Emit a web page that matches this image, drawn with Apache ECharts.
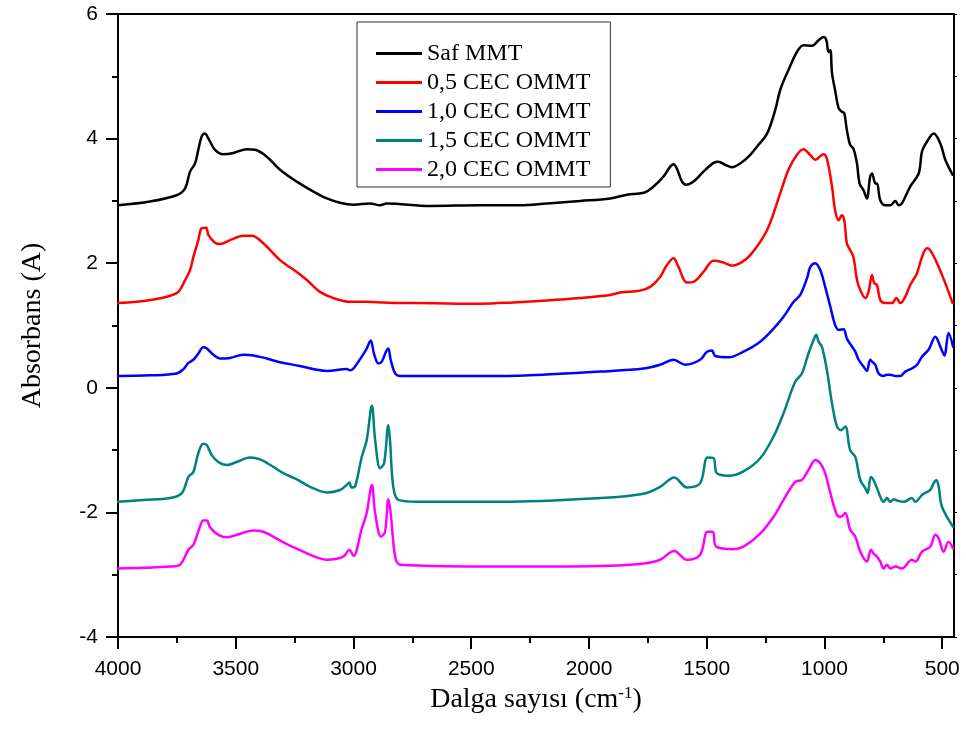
<!DOCTYPE html>
<html lang="tr">
  <head>
    <meta charset="UTF-8" />
    <title>FTIR spektrumları</title>
    <script src="https://cdn.jsdelivr.net/npm/echarts@6.0.0/dist/echarts.min.js"></script>
    <style>
      html, body { margin: 0; padding: 0; background: #fff; }
      #main { width: 966px; height: 740px; }
    </style>
  </head>
  <body>
    <div id="main"></div>

    <script type="text/javascript">
      // seri adlari
      var names = ["Saf MMT", "0,5 CEC OMMT", "1,0 CEC OMMT", "1,5 CEC OMMT", "2,0 CEC OMMT"];
      var colors = ["#000000", "#ff0000", "#0000ff", "#008080", "#ff00ff"];

      // eksen etiketleri
      var xMajor = [4000, 3500, 3000, 2500, 2000, 1500, 1000, 500];
      var xMinor = [3750, 3250, 2750, 2250, 1750, 1250, 750];

      // Saf MMT
      var wnSaf = [4000, 3864, 3751, 3715, 3694, 3673, 3659, 3645, 3631, 3616, 3588, 3553, 3510, 3453, 3418, 3368, 3312, 3241, 3170, 3113, 3057, 3000, 2930, 2887, 2859, 2675, 2462, 2292, 2179, 2037, 1910, 1839, 1768, 1726, 1684, 1655, 1641, 1627, 1605, 1587, 1556, 1514, 1471, 1450, 1422, 1393, 1358, 1315, 1287, 1244, 1209, 1188, 1153, 1117, 1089, 1053, 1025, 1004, 992, 983, 975, 968, 955, 940, 926, 916, 905, 891, 877, 862, 851, 834, 820, 806, 798, 784, 777, 763, 742, 721, 699, 685, 671, 636, 600, 586, 565, 536, 508, 487, 456];
      var absSaf = [2.93, 2.99, 3.09, 3.20, 3.47, 3.60, 3.82, 4.03, 4.08, 4.00, 3.82, 3.75, 3.77, 3.83, 3.82, 3.71, 3.50, 3.31, 3.15, 3.04, 2.97, 2.94, 2.96, 2.93, 2.96, 2.92, 2.93, 2.93, 2.96, 3.00, 3.04, 3.10, 3.13, 3.23, 3.39, 3.55, 3.59, 3.52, 3.31, 3.26, 3.31, 3.47, 3.61, 3.63, 3.58, 3.54, 3.60, 3.74, 3.87, 4.08, 4.46, 4.78, 5.10, 5.39, 5.50, 5.49, 5.58, 5.63, 5.58, 5.39, 5.42, 5.05, 4.78, 4.49, 4.43, 4.41, 4.14, 3.90, 3.84, 3.60, 3.28, 3.17, 3.04, 3.39, 3.44, 3.28, 3.28, 3.01, 2.93, 2.93, 3.00, 2.93, 2.96, 3.23, 3.44, 3.79, 3.95, 4.08, 3.92, 3.66, 3.42];

      // 0,5 CEC OMMT
      var wn05 = [4000, 3864, 3751, 3715, 3694, 3680, 3659, 3645, 3626, 3616, 3588, 3567, 3524, 3468, 3432, 3383, 3312, 3241, 3198, 3142, 3085, 3014, 2944, 2873, 2802, 2746, 2462, 2321, 2179, 2037, 1910, 1868, 1783, 1740, 1698, 1669, 1641, 1620, 1584, 1556, 1514, 1471, 1436, 1393, 1358, 1315, 1244, 1188, 1153, 1117, 1089, 1061, 1039, 1004, 990, 968, 955, 940, 926, 916, 905, 891, 877, 862, 848, 827, 813, 798, 789, 777, 763, 742, 713, 695, 678, 657, 636, 607, 586, 565, 551, 522, 487, 456];
      var abs05 = [1.36, 1.41, 1.52, 1.73, 1.89, 2.10, 2.37, 2.56, 2.57, 2.45, 2.33, 2.31, 2.37, 2.44, 2.44, 2.32, 2.05, 1.86, 1.73, 1.54, 1.44, 1.38, 1.38, 1.37, 1.36, 1.36, 1.35, 1.37, 1.40, 1.44, 1.49, 1.53, 1.56, 1.62, 1.78, 1.97, 2.08, 1.94, 1.69, 1.70, 1.86, 2.04, 2.02, 1.96, 2.00, 2.13, 2.53, 3.12, 3.50, 3.74, 3.83, 3.74, 3.66, 3.75, 3.68, 3.23, 2.85, 2.69, 2.77, 2.69, 2.32, 2.21, 2.10, 1.73, 1.57, 1.44, 1.54, 1.81, 1.68, 1.65, 1.41, 1.36, 1.36, 1.44, 1.36, 1.46, 1.65, 1.84, 2.10, 2.24, 2.21, 2.00, 1.68, 1.36];

      // 1,0 CEC OMMT
      var wn10 = [4000, 3864, 3751, 3722, 3701, 3680, 3659, 3638, 3623, 3595, 3567, 3524, 3468, 3425, 3368, 3312, 3227, 3156, 3113, 3029, 3014, 3000, 2965, 2944, 2927, 2913, 2894, 2880, 2862, 2852, 2842, 2823, 2802, 2377, 2144, 1952, 1768, 1698, 1641, 1591, 1528, 1499, 1478, 1464, 1407, 1344, 1273, 1216, 1174, 1131, 1103, 1074, 1060, 1039, 1018, 997, 975, 955, 940, 919, 905, 883, 869, 855, 834, 820, 806, 798, 784, 770, 749, 735, 721, 699, 678, 657, 629, 607, 586, 558, 529, 508, 491, 473, 454];
      var abs10 = [0.19, 0.20, 0.23, 0.30, 0.40, 0.45, 0.55, 0.65, 0.63, 0.53, 0.47, 0.48, 0.53, 0.52, 0.47, 0.41, 0.35, 0.29, 0.27, 0.30, 0.28, 0.31, 0.50, 0.63, 0.76, 0.55, 0.39, 0.42, 0.58, 0.63, 0.45, 0.23, 0.19, 0.19, 0.22, 0.26, 0.31, 0.37, 0.45, 0.37, 0.45, 0.58, 0.60, 0.51, 0.49, 0.58, 0.74, 0.95, 1.14, 1.38, 1.49, 1.76, 1.94, 2.00, 1.89, 1.62, 1.30, 1.01, 0.93, 0.94, 0.79, 0.66, 0.58, 0.45, 0.34, 0.27, 0.45, 0.42, 0.37, 0.23, 0.19, 0.21, 0.21, 0.19, 0.19, 0.26, 0.31, 0.37, 0.50, 0.61, 0.82, 0.66, 0.52, 0.88, 0.66];

      // 1,5 CEC OMMT
      var wn15 = [4000, 3893, 3779, 3729, 3701, 3680, 3659, 3638, 3623, 3602, 3574, 3538, 3496, 3439, 3397, 3340, 3298, 3241, 3184, 3113, 3057, 3029, 3018, 3008, 2993, 2965, 2944, 2922, 2908, 2887, 2870, 2852, 2845, 2831, 2809, 2731, 2377, 1952, 1768, 1698, 1638, 1584, 1528, 1497, 1471, 1457, 1407, 1344, 1273, 1216, 1174, 1124, 1096, 1068, 1046, 1035, 1025, 1011, 990, 968, 947, 930, 912, 891, 869, 848, 827, 817, 803, 792, 777, 763, 749, 735, 721, 706, 692, 664, 629, 614, 586, 551, 536, 525, 515, 501, 454];
      var abs15 = [-1.83, -1.80, -1.77, -1.69, -1.43, -1.35, -1.05, -0.90, -0.92, -1.08, -1.19, -1.24, -1.19, -1.12, -1.15, -1.27, -1.37, -1.47, -1.59, -1.68, -1.64, -1.56, -1.52, -1.60, -1.58, -1.11, -0.84, -0.29, -0.84, -1.29, -1.21, -0.60, -0.84, -1.59, -1.80, -1.83, -1.83, -1.77, -1.70, -1.59, -1.44, -1.60, -1.53, -1.12, -1.13, -1.37, -1.41, -1.34, -1.13, -0.78, -0.41, 0.10, 0.23, 0.55, 0.77, 0.85, 0.74, 0.66, 0.29, -0.25, -0.62, -0.68, -0.62, -1.00, -1.11, -1.48, -1.61, -1.69, -1.43, -1.48, -1.61, -1.75, -1.83, -1.77, -1.83, -1.79, -1.81, -1.83, -1.77, -1.83, -1.72, -1.64, -1.53, -1.48, -1.59, -1.91, -2.23];

      // 2,0 CEC OMMT
      var wn20 = [4000, 3893, 3779, 3737, 3701, 3680, 3652, 3638, 3623, 3609, 3574, 3538, 3496, 3425, 3383, 3326, 3283, 3241, 3184, 3113, 3043, 3018, 3000, 2965, 2944, 2922, 2908, 2883, 2866, 2852, 2842, 2823, 2802, 2377, 1952, 1768, 1698, 1638, 1584, 1528, 1497, 1474, 1460, 1386, 1344, 1273, 1216, 1174, 1124, 1096, 1068, 1039, 1018, 997, 975, 947, 930, 912, 891, 869, 848, 820, 803, 792, 777, 763, 749, 735, 721, 699, 671, 629, 614, 586, 551, 529, 515, 494, 473, 454];
      var abs20 = [-2.90, -2.89, -2.87, -2.84, -2.60, -2.52, -2.23, -2.13, -2.13, -2.24, -2.36, -2.40, -2.36, -2.29, -2.31, -2.42, -2.51, -2.58, -2.68, -2.76, -2.71, -2.60, -2.70, -2.26, -2.01, -1.56, -2.01, -2.39, -2.31, -1.79, -2.01, -2.71, -2.84, -2.87, -2.86, -2.82, -2.76, -2.62, -2.76, -2.68, -2.31, -2.31, -2.55, -2.59, -2.55, -2.34, -2.07, -1.80, -1.51, -1.48, -1.32, -1.16, -1.21, -1.37, -1.69, -2.04, -2.07, -2.01, -2.28, -2.39, -2.63, -2.79, -2.60, -2.66, -2.71, -2.79, -2.90, -2.84, -2.90, -2.87, -2.90, -2.76, -2.79, -2.63, -2.55, -2.36, -2.42, -2.63, -2.47, -2.58];

      var wnList = [wnSaf, wn05, wn10, wn15, wn20];
      var absList = [absSaf, abs05, abs10, abs15, abs20];

      function pairs(xs, ys) {
        return xs.map(function (x, i) { return [x, ys[i]]; });
      }

      var myChart = echarts.init(document.getElementById("main"), null, { renderer: "canvas" });

      var numFont = "Liberation Sans, Arial, sans-serif";
      var serifFont = "Liberation Serif, Times New Roman, serif";

      var series = names.map(function (n, i) {
        return {
          name: n,
          type: "line",
          xAxisIndex: 0,
          yAxisIndex: 0,
          data: pairs(wnList[i], absList[i]),
          showSymbol: false,
          symbol: "none",
          smooth: 0.35,
          lineStyle: { color: colors[i], width: 2.5, join: "round", cap: "round" },
          itemStyle: { color: colors[i] },
          animation: false
        };
      });

      var option = {
        backgroundColor: "#ffffff",
        animation: false,
        grid: { left: 118, right: 12, top: 14, bottom: 103, containLabel: false },
        legend: {
          orient: "vertical",
          left: 357,
          top: 22,
          data: names,
          icon: "rect",
          itemWidth: 46,
          itemHeight: 3,
          itemGap: 0,
          padding: [17, 20, 3, 19],
          borderColor: "#333333",
          borderWidth: 1,
          backgroundColor: "#ffffff",
          selectedMode: false,
          textStyle: { fontFamily: serifFont, fontSize: 24, color: "#000", lineHeight: 29 }
        },
        xAxis: [
          {
            type: "value",
            position: "bottom",
            inverse: true,
            min: 450,
            max: 4000,
            name: "Dalga sayısı (cm{sup|-1})",
            nameLocation: "middle",
            nameGap: 48,
            nameTextStyle: {
              fontFamily: serifFont,
              fontSize: 28,
              color: "#000",
              rich: {
                sup: { fontFamily: serifFont, fontSize: 17, color: "#000", verticalAlign: "top", padding: [0, 0, 12, 0] }
              }
            },
            axisLine: { show: true, onZero: false, lineStyle: { color: "#000", width: 2 } },
            axisTick: { show: true, inside: false, length: 12, customValues: xMajor, lineStyle: { color: "#000", width: 2 } },
            axisLabel: {
              show: true,
              margin: 22,
              customValues: xMajor,
              formatter: function (v) { return String(v); },
              fontFamily: numFont,
              fontSize: 21,
              color: "#000"
            },
            splitLine: { show: false }
          },
          {
            type: "value",
            position: "bottom",
            inverse: true,
            min: 450,
            max: 4000,
            axisLine: { show: false, onZero: false },
            axisTick: { show: true, inside: false, length: 6, customValues: xMinor, lineStyle: { color: "#000", width: 2 } },
            axisLabel: { show: false, customValues: xMinor },
            splitLine: { show: false }
          },
          {
            type: "value",
            position: "top",
            inverse: true,
            min: 450,
            max: 4000,
            axisLine: { show: true, onZero: false, lineStyle: { color: "#000", width: 2 } },
            axisTick: { show: false },
            axisLabel: { show: false },
            splitLine: { show: false }
          }
        ],
        yAxis: [
          {
            type: "value",
            position: "left",
            min: -4,
            max: 6,
            interval: 2,
            name: "Absorbans (A)",
            nameLocation: "middle",
            nameGap: 71,
            nameTextStyle: { fontFamily: serifFont, fontSize: 28, color: "#000" },
            axisLine: { show: true, onZero: false, lineStyle: { color: "#000", width: 2 } },
            axisTick: { show: true, inside: false, length: 12, lineStyle: { color: "#000", width: 2 } },
            minorTick: { show: true, splitNumber: 2, length: 6, lineStyle: { color: "#000", width: 2 } },
            axisLabel: { margin: 20, fontFamily: numFont, fontSize: 21, color: "#000" },
            splitLine: { show: false }
          },
          {
            type: "value",
            position: "right",
            min: -4,
            max: 6,
            interval: 1,
            axisLine: { show: true, onZero: false, lineStyle: { color: "#000", width: 2 } },
            axisTick: { show: true, inside: false, length: 3, lineStyle: { color: "#000", width: 1 } },
            axisLabel: { show: false },
            splitLine: { show: false }
          }
        ],
        series: series
      };

      myChart.setOption(option);
    </script>
  </body>
</html>
